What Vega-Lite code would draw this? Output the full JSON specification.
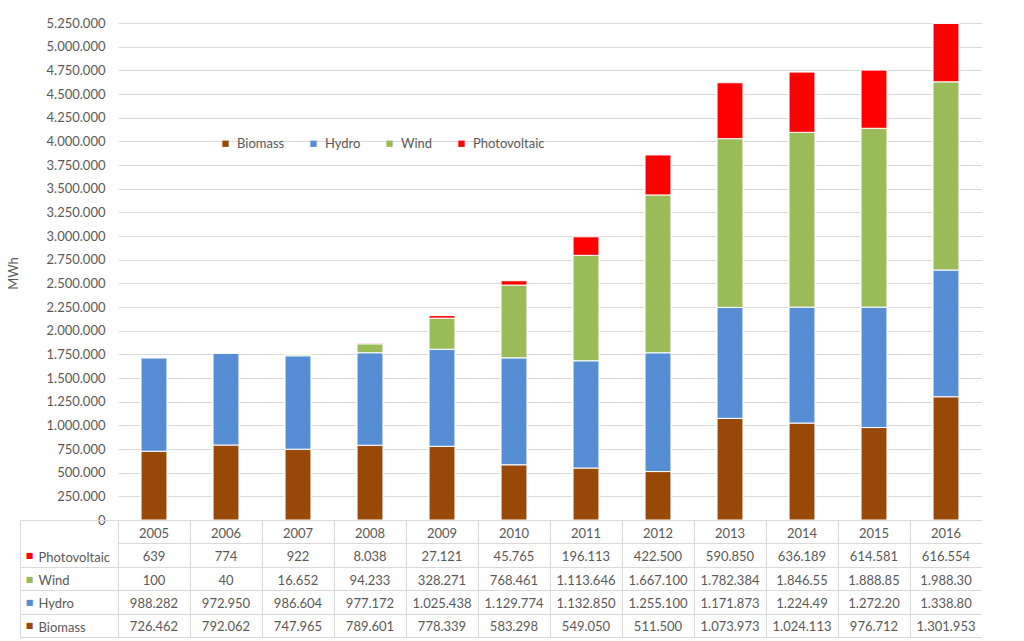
{
  "$schema": "https://vega.github.io/schema/vega-lite/v6.json",
  "padding": {"left": 7, "top": 17, "right": 0, "bottom": 0},
  "background": "white",
  "bounds": "flush",
  "spacing": 0,
  "resolve": {"scale": {"x": "independent", "color": "independent"}},
  "config": {
    "locale": {"number": {"decimal": ",", "thousands": ".", "grouping": [3], "currency": ["", " €"]}},
    "font": "Lato",
    "view": {"stroke": null},
    "axis": {"labelFont": "Lato", "labelFontSize": 13, "labelColor": "#595959", "titleFont": "Lato", "titleFontSize": 13, "titleFontWeight": "normal", "titleColor": "#595959", "gridColor": "#d9d9d9", "domainColor": "#d9d9d9", "tickColor": "#d9d9d9"}
  },
  "datasets": {
    "energy": [
      {"year": "2005", "series": "Biomass", "value": 726462, "label": "726.462"},
      {"year": "2006", "series": "Biomass", "value": 792062, "label": "792.062"},
      {"year": "2007", "series": "Biomass", "value": 747965, "label": "747.965"},
      {"year": "2008", "series": "Biomass", "value": 789601, "label": "789.601"},
      {"year": "2009", "series": "Biomass", "value": 778339, "label": "778.339"},
      {"year": "2010", "series": "Biomass", "value": 583298, "label": "583.298"},
      {"year": "2011", "series": "Biomass", "value": 549050, "label": "549.050"},
      {"year": "2012", "series": "Biomass", "value": 511500, "label": "511.500"},
      {"year": "2013", "series": "Biomass", "value": 1073973, "label": "1.073.973"},
      {"year": "2014", "series": "Biomass", "value": 1024113, "label": "1.024.113"},
      {"year": "2015", "series": "Biomass", "value": 976712, "label": "976.712"},
      {"year": "2016", "series": "Biomass", "value": 1301953, "label": "1.301.953"},
      {"year": "2005", "series": "Hydro", "value": 988282, "label": "988.282"},
      {"year": "2006", "series": "Hydro", "value": 972950, "label": "972.950"},
      {"year": "2007", "series": "Hydro", "value": 986604, "label": "986.604"},
      {"year": "2008", "series": "Hydro", "value": 977172, "label": "977.172"},
      {"year": "2009", "series": "Hydro", "value": 1025438, "label": "1.025.438"},
      {"year": "2010", "series": "Hydro", "value": 1129774, "label": "1.129.774"},
      {"year": "2011", "series": "Hydro", "value": 1132850, "label": "1.132.850"},
      {"year": "2012", "series": "Hydro", "value": 1255100, "label": "1.255.100"},
      {"year": "2013", "series": "Hydro", "value": 1171873, "label": "1.171.873"},
      {"year": "2014", "series": "Hydro", "value": 1224490, "label": "1.224.49"},
      {"year": "2015", "series": "Hydro", "value": 1272200, "label": "1.272.20"},
      {"year": "2016", "series": "Hydro", "value": 1338800, "label": "1.338.80"},
      {"year": "2005", "series": "Wind", "value": 100, "label": "100"},
      {"year": "2006", "series": "Wind", "value": 40, "label": "40"},
      {"year": "2007", "series": "Wind", "value": 16652, "label": "16.652"},
      {"year": "2008", "series": "Wind", "value": 94233, "label": "94.233"},
      {"year": "2009", "series": "Wind", "value": 328271, "label": "328.271"},
      {"year": "2010", "series": "Wind", "value": 768461, "label": "768.461"},
      {"year": "2011", "series": "Wind", "value": 1113646, "label": "1.113.646"},
      {"year": "2012", "series": "Wind", "value": 1667100, "label": "1.667.100"},
      {"year": "2013", "series": "Wind", "value": 1782384, "label": "1.782.384"},
      {"year": "2014", "series": "Wind", "value": 1846550, "label": "1.846.55"},
      {"year": "2015", "series": "Wind", "value": 1888850, "label": "1.888.85"},
      {"year": "2016", "series": "Wind", "value": 1988300, "label": "1.988.30"},
      {"year": "2005", "series": "Photovoltaic", "value": 639, "label": "639"},
      {"year": "2006", "series": "Photovoltaic", "value": 774, "label": "774"},
      {"year": "2007", "series": "Photovoltaic", "value": 922, "label": "922"},
      {"year": "2008", "series": "Photovoltaic", "value": 8038, "label": "8.038"},
      {"year": "2009", "series": "Photovoltaic", "value": 27121, "label": "27.121"},
      {"year": "2010", "series": "Photovoltaic", "value": 45765, "label": "45.765"},
      {"year": "2011", "series": "Photovoltaic", "value": 196113, "label": "196.113"},
      {"year": "2012", "series": "Photovoltaic", "value": 422500, "label": "422.500"},
      {"year": "2013", "series": "Photovoltaic", "value": 590850, "label": "590.850"},
      {"year": "2014", "series": "Photovoltaic", "value": 636189, "label": "636.189"},
      {"year": "2015", "series": "Photovoltaic", "value": 614581, "label": "614.581"},
      {"year": "2016", "series": "Photovoltaic", "value": 616554, "label": "616.554"}
    ]
  },
  "vconcat": [
    {
      "width": 864,
      "height": 497,
      "data": {"name": "energy"},
      "transform": [{"calculate": "indexof(['Biomass', 'Hydro', 'Wind', 'Photovoltaic'], datum.series)", "as": "stackIdx"}],
      "mark": {"type": "bar", "stroke": "white", "strokeWidth": 1},
      "encoding": {
        "x": {"field": "year", "type": "nominal", "scale": {"paddingInner": 0.64, "paddingOuter": 0.32}, "axis": null},
        "y": {
          "field": "value", "type": "quantitative", "stack": "zero",
          "scale": {"domain": [0, 5250000], "nice": false},
          "axis": {
            "values": [0, 250000, 500000, 750000, 1000000, 1250000, 1500000, 1750000, 2000000, 2250000, 2500000, 2750000, 3000000, 3250000, 3500000, 3750000, 4000000, 4250000, 4500000, 4750000, 5000000, 5250000],
            "format": ",d", "grid": true, "domain": false, "ticks": false, "labelPadding": 13,
            "title": "MWh", "titleX": -98, "titleY": 250
          }
        },
        "order": {"field": "stackIdx", "type": "quantitative", "sort": "ascending"},
        "color": {
          "field": "series", "type": "nominal",
          "scale": {"domain": ["Biomass", "Hydro", "Wind", "Photovoltaic"], "range": ["#984807", "#558ED5", "#9BBB59", "#FF0000"]},
          "legend": {"orient": "none", "legendX": 101, "legendY": 114, "direction": "horizontal", "title": null, "symbolType": "square", "symbolSize": 40, "symbolStrokeWidth": 0, "labelFont": "Lato", "labelFontSize": 13, "labelColor": "#595959", "columnPadding": 22, "labelOffset": 5, "padding": 0}
        }
      }
    },
    {
      "width": 864,
      "height": 117,
      "resolve": {"scale": {"y": "independent"}, "axis": {"y": "independent"}},
      "layer": [
        {
          "data": {"name": "energy"},
          "mark": {"type": "text", "font": "Lato", "fontSize": 13, "color": "#595959", "dy": 2},
          "encoding": {
            "x": {"field": "year", "type": "nominal", "scale": {"type": "band", "padding": 0},
                  "axis": {"orient": "bottom", "grid": true, "tickBand": "extent", "labels": false, "ticks": false, "domain": false, "title": null}},
            "y": {"field": "series", "type": "nominal",
                  "scale": {"type": "band", "domain": ["Year", "Photovoltaic", "Wind", "Hydro", "Biomass"], "padding": 0},
                  "axis": {"orient": "left", "title": null, "domain": false, "ticks": true, "tickSize": 98, "tickBand": "extent",
                           "tickOpacity": {"condition": {"test": "datum.value === 'Year'", "value": 0}, "value": 1},
                           "grid": true, "labelAlign": "left", "labelPadding": -18, "labelOffset": 2,
                           "labelExpr": "datum.value === 'Year' ? '' : datum.value"}},
            "text": {"field": "label"}
          }
        },
        {
          "data": {"name": "energy"},
          "transform": [{"filter": "datum.series === 'Biomass'"}],
          "mark": {"type": "text", "font": "Lato", "fontSize": 13, "color": "#595959", "dy": 2},
          "encoding": {
            "x": {"field": "year", "type": "nominal"},
            "y": {"datum": "Year", "type": "nominal", "bandPosition": 0.5,
                  "scale": {"type": "band", "domain": ["Year", "Photovoltaic", "Wind", "Hydro", "Biomass"], "padding": 0},
                  "axis": {"orient": "left", "offset": 98, "title": null, "domain": true, "ticks": false, "grid": false,
                           "labelExpr": "datum.value === 'Year' ? '' : '■'", "labelAlign": "center", "labelPadding": -9, "labelOffset": 1,
                           "labelFont": "DejaVu Sans", "labelFontSize": 8,
                           "labelColor": {"condition": [
                             {"test": "datum.value === 'Photovoltaic'", "value": "#FF0000"},
                             {"test": "datum.value === 'Wind'", "value": "#9BBB59"},
                             {"test": "datum.value === 'Hydro'", "value": "#558ED5"}
                           ], "value": "#984807"}}},
            "text": {"field": "year"}
          }
        }
      ]
    }
  ]
}
